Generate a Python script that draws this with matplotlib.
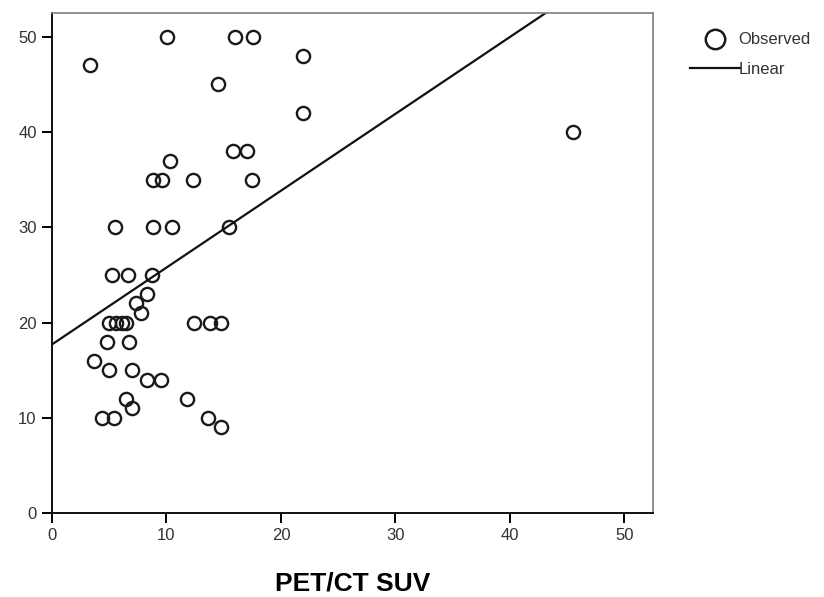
import numpy as np
import matplotlib.pyplot as plt
from matplotlib.lines import Line2D

suv = [3.3, 10.05, 16.0, 17.6, 21.9, 14.5, 21.9, 45.5, 15.8, 17.0,
       10.3, 8.85, 9.6, 12.3, 17.5, 5.5, 8.8, 10.5, 15.5, 5.2,
       6.6, 8.7, 8.3, 7.3, 7.8, 5.0, 5.6, 6.1, 6.5, 12.4,
       13.8, 14.8, 4.8, 6.7, 3.7, 5.0, 7.0, 8.3, 9.5, 11.8,
       6.5, 7.0, 4.4, 5.4, 13.6, 14.8]
value = [47, 50, 50, 50, 48, 45, 42, 40, 38, 38,
         37, 35, 35, 35, 35, 30, 30, 30, 30, 25,
         25, 25, 23, 22, 21, 20, 20, 20, 20, 20,
         20, 20, 18, 18, 16, 15, 15, 14, 14, 12,
         12, 11, 10, 10, 10, 9]

# fitted linear line
intercept = 17.7
slope = 0.807

plt.rcParams['font.family'] = ['Liberation Sans', 'DejaVu Sans']

fig = plt.figure(figsize=(8.24, 5.97), dpi=100)
ax = fig.add_axes([52/824, 84/597, 601/824, 500/597])

ax.plot(suv, value, 'o', mfc='none', mec='#1a1a1a', ms=9.5, mew=1.7, label='Observed')
xs = np.array([0, 60])
ax.plot(xs, intercept + slope * xs, color='#111111', lw=1.6, label='Linear')

ax.set_xlim(0, 52.5)
ax.set_ylim(0, 52.5)
ax.set_xticks(range(0, 51, 10))
ax.set_yticks(range(0, 51, 10))
ax.tick_params(direction='out', length=7, width=1.4, labelsize=12, labelcolor='#333333', pad=4)

for s in ['left', 'bottom']:
    ax.spines[s].set_color('#111111')
    ax.spines[s].set_linewidth(1.4)
for s in ['top', 'right']:
    ax.spines[s].set_color('#7f7f7f')
    ax.spines[s].set_linewidth(1.2)

ax.set_xlabel('PET/CT SUV', fontsize=19, fontweight='bold', labelpad=20)

handles = [Line2D([], [], ls='none', marker='o', mfc='none', mec='#1a1a1a', ms=14, mew=1.8),
           Line2D([], [], color='#111111', lw=1.6)]
fig.legend(handles, ['Observed', 'Linear'], loc='upper left',
           bbox_to_anchor=(682/824, 1 - 24/597), frameon=False, fontsize=12,
           handlelength=3.0, handletextpad=-0.1, labelspacing=0.85, borderpad=0,
           labelcolor='#333333')

fig.savefig('out.png', dpi=100)
